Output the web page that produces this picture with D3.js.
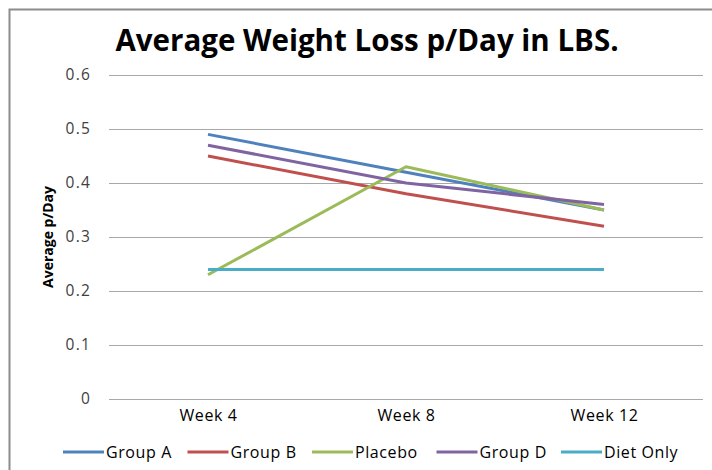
<!DOCTYPE html>
<html>
<head>
<meta charset="utf-8">
<script src="https://cdn.jsdelivr.net/npm/d3@7"></script>
<style>
  body { margin: 0; background: #fff; }
  text { font-family: 'Open Sans', sans-serif; }
</style>
</head>
<body>
<div id="chart"></div>
<script>
// data
var weeks = ['Week 4', 'Week 8', 'Week 12']
var seriesNames = ['Group A', 'Group B', 'Placebo', 'Group D', 'Diet Only']
var groupA = [0.49, 0.42, 0.35]
var groupB = [0.45, 0.38, 0.32]
var placebo = [0.23, 0.43, 0.35]
var groupD = [0.47, 0.40, 0.36]
var dietOnly = [0.24, 0.24, 0.24]
var yTicks = [0, 0.1, 0.2, 0.3, 0.4, 0.5, 0.6]
var colors = ['#4F81BD', '#C0504D', '#9BBB59', '#8064A2', '#4BACC6']

var series = [groupA, groupB, placebo, groupD, dietOnly].map(function (vals, i) {
  return { name: seriesNames[i], values: vals }
})

var W = 712
var H = 470
var margin = { top: 75, left: 109, right: 9, bottom: 71 }
var width = W - margin.left - margin.right
var height = H - margin.top - margin.bottom

var svg = d3.select('#chart')
  .append('svg')
  .attr('width', W)
  .attr('height', H)

// outer frame
svg.append('rect')
  .attr('x', 9.5)
  .attr('y', 9.5)
  .attr('width', W + 20)
  .attr('height', H + 20)
  .attr('fill', 'none')
  .attr('stroke', '#8c8c8c')
  .attr('stroke-width', 2)

var g = svg.append('g')
  .attr('transform', 'translate(' + margin.left + ',' + margin.top + ')')

var xScale = d3.scalePoint().domain(weeks).range([0, width]).padding(0.5)
var yScale = d3.scaleLinear().domain([0, 0.6]).range([height, 0])

// gridlines
g.selectAll('.grid')
  .data(yTicks)
  .enter()
  .append('line')
  .attr('class', 'grid')
  .attr('x1', 0)
  .attr('x2', width)
  .attr('y1', d => Math.round(yScale(d)) + 0.5)
  .attr('y2', d => Math.round(yScale(d)) + 0.5)
  .attr('stroke', '#a8a8a8')
  .attr('stroke-width', 1)

// y axis labels
var yAxis = d3.axisLeft(yScale)
  .tickValues(yTicks)
  .tickSize(0)
  .tickPadding(18)
  .tickFormat(d => d === 0 ? '0' : d3.format('.1f')(d))

g.append('g')
  .attr('class', 'axis y-axis')
  .call(yAxis)
  .call(s => s.select('.domain').remove())
  .selectAll('text')
  .attr('font-size', 15.5)
  .attr('letter-spacing', 1.2)
  .attr('fill', '#404040')
  .attr('font-family', "'Open Sans', sans-serif")

// x axis labels
var xAxis = d3.axisBottom(xScale).tickSize(0).tickPadding(11)

g.append('g')
  .attr('class', 'axis x-axis')
  .attr('transform', 'translate(0,' + height + ')')
  .call(xAxis)
  .call(s => s.select('.domain').remove())
  .selectAll('text')
  .attr('font-size', 16)
  .attr('letter-spacing', 0.6)
  .attr('fill', '#000')
  .attr('font-family', "'Open Sans', sans-serif")

var line = d3.line()
  .x((d, i) => xScale(weeks[i]))
  .y(d => yScale(d))

g.selectAll('.series-line')
  .data(series)
  .enter()
  .append('path')
  .attr('class', 'series-line')
  .attr('d', d => line(d.values))
  .attr('fill', 'none')
  .attr('stroke', (d, i) => colors[i])
  .attr('stroke-width', 3)
  .attr('stroke-linejoin', 'round')

// title
svg.append('text')
  .text('Average Weight Loss p/Day in LBS.')
  .attr('x', 367)
  .attr('y', 51)
  .attr('text-anchor', 'middle')
  .attr('font-size', 29.5)
  .attr('font-weight', 'bold')

// y axis title
svg.append('text')
  .text('Average p/Day')
  .attr('transform', 'translate(53,237) rotate(-90)')
  .attr('text-anchor', 'middle')
  .attr('font-size', 14)
  .attr('font-weight', 'bold')

// legend
var legend = svg.selectAll('.legend')
  .data(series)
  .enter()
  .append('g')
  .attr('class', 'legend')
  .attr('transform', (d, i) => 'translate(' + (63 + i * 124.5) + ',452)')

legend.append('line')
  .attr('x1', 0)
  .attr('x2', 41)
  .attr('y1', 0)
  .attr('y2', 0)
  .attr('stroke', (d, i) => colors[i])
  .attr('stroke-width', 3)

legend.append('text')
  .text(d => d.name)
  .attr('x', 43)
  .attr('y', 0)
  .attr('dy', '0.35em')
  .attr('font-size', 16)
  .attr('letter-spacing', 0.6)
</script>
</body>
</html>
